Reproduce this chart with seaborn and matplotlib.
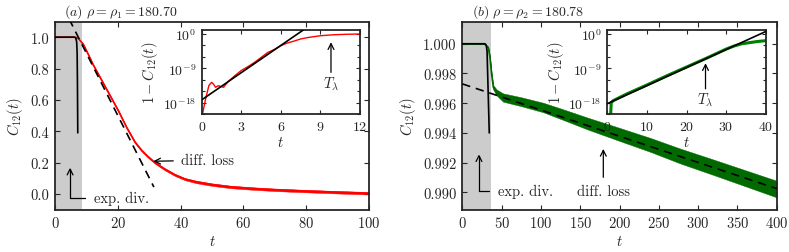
"""
Correlation decay C12(t) for two densities, with log-scale insets.
"""

import numpy as np
import matplotlib
matplotlib.use("Agg")
import matplotlib.pyplot as plt
from matplotlib.ticker import FixedLocator, LogFormatterSciNotation, NullFormatter
import seaborn as sns

sns.set_theme(context="paper", style="ticks")
plt.rcParams.update({
    "font.family": "serif",
    "font.serif": ["cmr10"],
    "mathtext.fontset": "cm",
    "axes.formatter.use_mathtext": True,
    "font.size": 10.5,
    "axes.labelsize": 10.5,
    "xtick.labelsize": 10.5,
    "ytick.labelsize": 10.5,
    "axes.linewidth": 1.3,
    "xtick.direction": "in",
    "ytick.direction": "in",
    "xtick.top": True,
    "ytick.right": True,
    "xtick.major.size": 3.5,
    "ytick.major.size": 3.5,
    "xtick.minor.size": 2.0,
    "ytick.minor.size": 2.0,
    "xtick.major.width": 0.8,
    "ytick.major.width": 0.8,
    "xtick.major.pad": 4,
    "ytick.major.pad": 4,
})

# ---- panel (a): rho_1 = 180.70 ----
t_a = [0, 6.5, 7.5, 9, 10.6, 12, 13.8, 17, 20.2, 22.8, 25.5, 27.5, 29.5,
       31.8, 35, 38.2, 41.4, 45, 50, 56, 63, 70, 77, 85, 92, 100]
c_a = [1.0, 1.0, 0.99, 0.955, 0.89, 0.83, 0.764, 0.647, 0.53, 0.425, 0.33,
       0.28, 0.24, 0.2, 0.158, 0.122, 0.095, 0.077, 0.06, 0.045, 0.035, 0.027,
       0.021, 0.015, 0.01, 0.005]
noise_a = [0.0, 0.0, 0.002, 0.003, 0.003, 0.004, 0.004, 0.005, 0.005, 0.005,
           0.006, 0.006, 0.006, 0.006, 0.007, 0.007, 0.007, 0.008, 0.008,
           0.008, 0.008, 0.008, 0.008, 0.008, 0.008, 0.008]
exp_t_a = [0, 6.2, 6.6, 6.9, 7.05, 7.15, 7.25]
exp_c_a = [1.0, 1.0, 0.995, 0.97, 0.9, 0.7, 0.39]
diff_t_a = [4.5, 31.5]
diff_c_a = [1.116, 0.044]
shade_a = 8.5

# inset (a): log10 of 1 - C12
it_a = [0, 0.3, 0.55, 0.75, 0.9, 1.05, 1.25, 1.45, 1.65, 2, 2.5, 3, 3.5, 4,
        4.5, 5, 5.5, 6, 6.5, 7, 7.5, 8, 9, 10, 11, 12]
ilog_a = [-22, -17, -13.5, -12.7, -13.2, -14, -13.6, -13.8, -14, -12.5, -11,
          -9.6, -8.6, -7.5, -6.2, -4.9, -4.1, -3.1, -2.4, -1.9, -1.35, -1.0,
          -0.5, -0.25, -0.12, -0.05]
fit_t_a = [0, 7.7]
fit_log_a = [-17.3, 1.0]

# ---- panel (b): rho_2 = 180.78 ----
t_b = [0, 28, 31, 33, 35.2, 37.3, 39.5, 43.7, 52, 75, 103, 130, 160, 200,
       240, 277, 320, 360, 400]
c_b = [1.0, 1.0, 0.99985, 0.99975, 0.99908, 0.99796, 0.99706, 0.99672,
       0.99638, 0.9961, 0.99571, 0.9952, 0.99462, 0.99390, 0.99318, 0.99245,
       0.99168, 0.99095, 0.99022]
noise_b = [0.0, 0.0, 0.00003, 0.00005, 0.00008, 0.0001, 0.00015, 0.0002,
           0.00028, 0.0003, 0.00032, 0.00036, 0.0004, 0.00044, 0.00047,
           0.0005, 0.00052, 0.00054, 0.00056]
exp_t_b = [0, 29, 30.5, 31.5, 34.3]
exp_c_b = [1.0, 1.0, 0.9999, 0.9995, 0.9940]
diff_t_b = [0, 400]
diff_c_b = [0.9973, 0.99025]
shade_b = 36

# inset (b)
it_b = [0, 0.8, 1.0, 1.5, 5, 10, 15, 20, 25, 30, 32, 34, 36, 38, 40]
ilog_b = [-22, -22, -18, -17.5, -15.7, -13.4, -11.0, -8.7, -6.4, -4.0, -3.2,
          -2.6, -2.3, -2.0, -1.8]
fit_t_b = [0, 40]
fit_log_b = [-18.3, 0.6]

W, H = 789, 253
fig = plt.figure(figsize=(W / 100, H / 100), dpi=100)


def px_axes(x0, y0, x1, y1):
  return fig.add_axes([x0 / W, 1 - y1 / H, (x1 - x0) / W, (y1 - y0) / H])


ax_a = px_axes(55, 22.5, 369, 210.7)
ax_b = px_axes(462.3, 22.5, 776.7, 210.7)
in_a = px_axes(201.7, 31, 360, 115)
in_b = px_axes(607.3, 31, 765.7, 115)


def main_panel(ax, t, c, noise, color, exp_t, exp_c, diff_t, diff_c, shade):
  ax.axvspan(0, shade, color="0.8", lw=0, zorder=0)
  lo = np.array(c) - np.array(noise)
  hi = np.array(c) + np.array(noise)
  ax.fill_between(t, lo, hi, color=color, lw=0.3, edgecolor=color, zorder=2)
  sns.lineplot(x=t, y=c, ax=ax, color=color, lw=1.2, zorder=2)
  sns.lineplot(x=exp_t, y=exp_c, ax=ax, color="black", lw=1.2, zorder=3)
  sns.lineplot(x=diff_t, y=diff_c, ax=ax, color="black", lw=1.2,
               linestyle=(0, (5, 3.5)), zorder=4)
  ax.set_xlabel("$t$", labelpad=3)
  ax.set_ylabel("$C_{12}(t)$", labelpad=4)


def inset_panel(ax, t, logs, color, lw, fit_t, fit_log):
  sns.lineplot(x=t, y=np.power(10.0, logs), ax=ax, color=color, lw=lw,
               zorder=2)
  sns.lineplot(x=fit_t, y=np.power(10.0, fit_log), ax=ax, color="black",
               lw=1.2, zorder=3)
  ax.set_yscale("log")
  ax.set_ylim(1e-21, 1e1)
  ax.yaxis.set_major_locator(FixedLocator([1e-18, 1e-9, 1e0]))
  ax.yaxis.set_major_formatter(LogFormatterSciNotation())
  ax.yaxis.set_minor_locator(FixedLocator(
      [10.0 ** k for k in range(-21, 2, 3) if k not in (-18, -9, 0)]))
  ax.yaxis.set_minor_formatter(NullFormatter())
  ax.set_xlabel("$t$", labelpad=2)
  ax.set_ylabel("$1-C_{12}(t)$", labelpad=2)
  ax.tick_params(length=3, labelsize=10)


arrow = dict(arrowstyle="->", color="black", lw=0.9, shrinkA=0, shrinkB=0)
corner = dict(arrowstyle="->", color="black", lw=0.9, shrinkA=4, shrinkB=0,
              connectionstyle="angle,angleA=180,angleB=90,rad=0")

# panel (a)
main_panel(ax_a, t_a, c_a, noise_a, "#ff0000", exp_t_a, exp_c_a,
           diff_t_a, diff_c_a, shade_a)
ax_a.set_xlim(0, 100)
ax_a.set_ylim(-0.1, 1.1)
ax_a.set_xticks(range(0, 101, 20))
ax_a.set_yticks([0.0, 0.2, 0.4, 0.6, 0.8, 1.0])
ax_a.yaxis.set_major_formatter(plt.FormatStrFormatter("%.1f"))
ax_a.text(0.03, 1.01, r"$(a)\ \rho=\rho_1=180.70$", transform=ax_a.transAxes,
          ha="left", va="bottom", fontsize=10)
ax_a.annotate("exp. div.", xy=(4.8, 0.168), xytext=(12.3, -0.023),
              ha="left", va="center", arrowprops=corner)
ax_a.annotate("diff. loss", xy=(31.3, 0.209), xytext=(40.0, 0.215),
              ha="left", va="center",
              arrowprops=dict(arrow, shrinkA=3))

inset_panel(in_a, it_a, ilog_a, "#ff0000", 1.0, fit_t_a, fit_log_a)
in_a.set_xlim(0, 12)
in_a.set_xticks([0, 3, 6, 9, 12])
in_a.annotate("", xy=(9.8, 10 ** -2.2), xytext=(9.8, 10 ** -10.1),
              arrowprops=arrow)
in_a.text(9.8, 10 ** -12.9, r"$T_\lambda$", ha="center", va="center")

# panel (b)
main_panel(ax_b, t_b, c_b, noise_b, "#006a00", exp_t_b, exp_c_b,
           diff_t_b, diff_c_b, shade_b)
ax_b.set_xlim(0, 400)
ax_b.set_ylim(0.98883, 1.0015)
ax_b.set_xticks(range(0, 401, 50))
ax_b.set_yticks([0.990, 0.992, 0.994, 0.996, 0.998, 1.000])
ax_b.yaxis.set_major_formatter(plt.FormatStrFormatter("%.3f"))
ax_b.text(0.03, 1.01, r"$(b)\ \rho=\rho_2=180.78$", transform=ax_b.transAxes,
          ha="left", va="bottom", fontsize=10)
ax_b.annotate("exp. div.", xy=(21.2, 0.99256), xytext=(45.5, 0.99009),
              ha="left", va="center", arrowprops=corner)
ax_b.annotate("", xy=(179.4, 0.99292), xytext=(179.4, 0.99101),
              arrowprops=arrow)
ax_b.text(180, 0.99009, "diff. loss", ha="center", va="center")

inset_panel(in_b, it_b, ilog_b, "#008000", 2.2, fit_t_b, fit_log_b)
in_b.set_xlim(0, 40)
in_b.set_xticks([0, 10, 20, 30, 40])
in_b.annotate("", xy=(24.8, 10 ** -7.7), xytext=(24.8, 10 ** -14.4),
              arrowprops=arrow)
in_b.text(24.8, 10 ** -17.1, r"$T_\lambda$", ha="center", va="center")

for ax in (ax_a, ax_b, in_a, in_b):
  for s in ax.spines.values():
    s.set_linewidth(1.3)

fig.savefig("out.png", dpi=100)
